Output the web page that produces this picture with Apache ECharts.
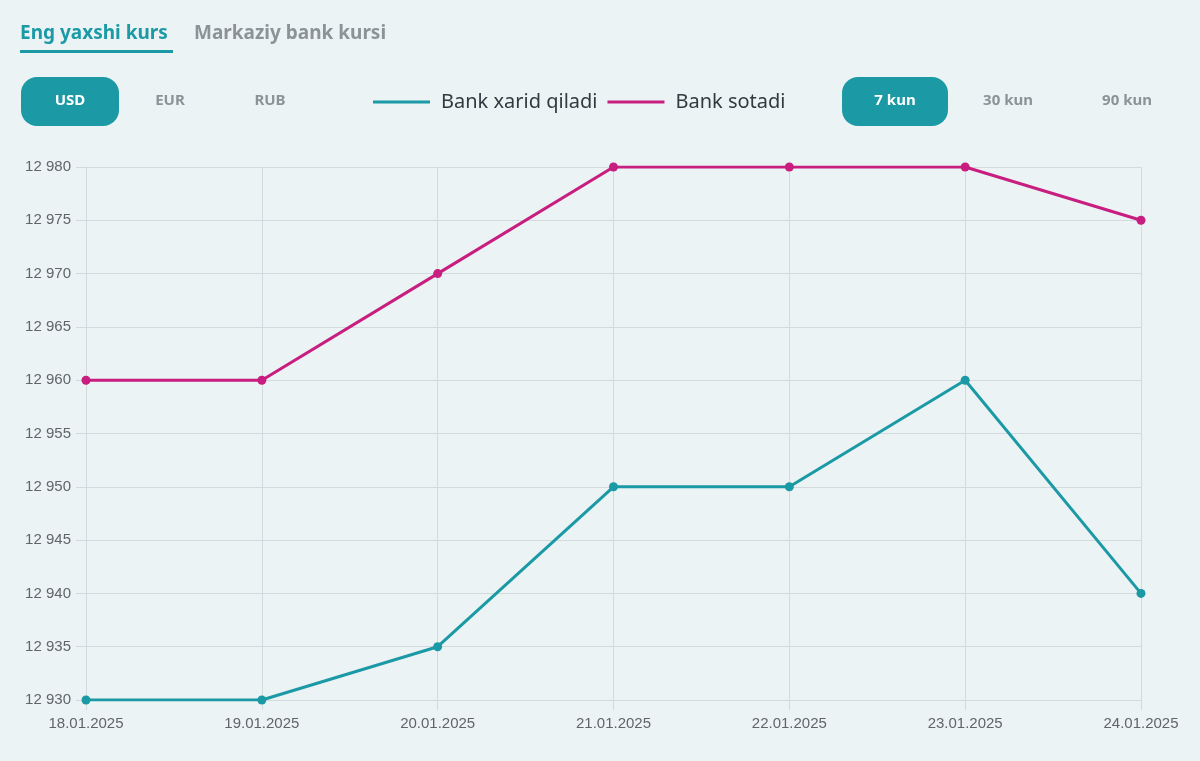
<!DOCTYPE html>
<html>
<head>
<meta charset="utf-8">
<script src="https://cdn.jsdelivr.net/npm/echarts@6/dist/echarts.min.js"></script>
<style>
html,body{margin:0;padding:0;background:#ebf3f5;}
#chart{width:1200px;height:761px;}
</style>
</head>
<body>
<div id="chart"></div>
<script>
const dates = ['18.01.2025','19.01.2025','20.01.2025','21.01.2025','22.01.2025','23.01.2025','24.01.2025'];
const buyRates = [12930, 12930, 12935, 12950, 12950, 12960, 12940];
const sellRates = [12960, 12960, 12970, 12980, 12980, 12980, 12975];
const seriesNames = ['Bank xarid qiladi', 'Bank sotadi'];
const tabs = ['Eng yaxshi kurs', 'Markaziy bank kursi'];
const currencies = ['USD', 'EUR', 'RUB'];
const periods = ['7 kun', '30 kun', '90 kun'];

const TEAL = '#1b9aa6';
const MAGENTA = '#c81e7f';
const GRAYTXT = '#8c9397';
const GRID = '#d3dadd';
const UIFONT = '"Noto Sans", "Open Sans", sans-serif';
const AXFONT = '"Liberation Sans", Arial, sans-serif';

const chart = echarts.init(document.getElementById('chart'));

function fmt(v){ return String(v).replace(/\B(?=(\d{3})+(?!\d))/g, ' '); }

const graphic = [
  {type:'text', x:20, y:34, style:{text:tabs[0], font:'bold 19px ' + UIFONT, fill:TEAL, verticalAlign:'middle'}},
  {type:'rect', shape:{x:20, y:50, width:153, height:3}, style:{fill:TEAL}},
  {type:'text', x:194, y:34, style:{text:tabs[1], font:'bold 19px ' + UIFONT, fill:GRAYTXT, verticalAlign:'middle'}},
  {type:'rect', shape:{x:21, y:77, width:98, height:49, r:16}, style:{fill:TEAL}},
  {type:'text', x:70, y:101, style:{text:currencies[0], font:'bold 15px ' + UIFONT, fill:'#ffffff', align:'center', verticalAlign:'middle'}},
  {type:'text', x:170, y:101, style:{text:currencies[1], font:'bold 15px ' + UIFONT, fill:GRAYTXT, align:'center', verticalAlign:'middle'}},
  {type:'text', x:270, y:101, style:{text:currencies[2], font:'bold 15px ' + UIFONT, fill:GRAYTXT, align:'center', verticalAlign:'middle'}},
  {type:'rect', shape:{x:842, y:77, width:106, height:49, r:16}, style:{fill:TEAL}},
  {type:'text', x:895, y:101, style:{text:periods[0], font:'bold 15px ' + UIFONT, fill:'#ffffff', align:'center', verticalAlign:'middle'}},
  {type:'text', x:1008, y:101, style:{text:periods[1], font:'bold 15px ' + UIFONT, fill:GRAYTXT, align:'center', verticalAlign:'middle'}},
  {type:'text', x:1127, y:101, style:{text:periods[2], font:'bold 15px ' + UIFONT, fill:GRAYTXT, align:'center', verticalAlign:'middle'}}
];

chart.setOption({
  backgroundColor:'#ebf3f5',
  animation:false,
  graphic: graphic,
  legend:{
    left:368, top:87,
    icon:'rect', itemWidth:57, itemHeight:3, itemGap:10,
    textStyle:{fontSize:20, color:'#333a3f', fontFamily:UIFONT, padding:[0,0,0,6]},
    data: seriesNames
  },
  grid:{left:86, right:59, top:167, bottom:61, containLabel:false},
  xAxis:{
    type:'category', data:dates, boundaryGap:false,
    axisLine:{show:true, lineStyle:{color:GRID, width:1}},
    axisTick:{show:true, length:10, alignWithLabel:true, lineStyle:{color:GRID}},
    splitLine:{show:true, lineStyle:{color:GRID, width:1}},
    axisLabel:{color:'#5f6569', fontSize:15, fontFamily:AXFONT, margin:16}
  },
  yAxis:{
    type:'value', min:12930, max:12980, interval:5,
    axisLine:{show:true, lineStyle:{color:GRID, width:1}},
    axisTick:{show:true, length:10, lineStyle:{color:GRID}},
    splitLine:{show:true, lineStyle:{color:GRID, width:1}},
    axisLabel:{color:'#5f6569', fontSize:15, fontFamily:AXFONT, margin:15, formatter: fmt}
  },
  series:[
    {name:seriesNames[0], type:'line', data:buyRates, color:TEAL,
     symbol:'circle', symbolSize:9, lineStyle:{width:3, color:TEAL}, itemStyle:{color:TEAL}},
    {name:seriesNames[1], type:'line', data:sellRates, color:MAGENTA,
     symbol:'circle', symbolSize:9, lineStyle:{width:3, color:MAGENTA}, itemStyle:{color:MAGENTA}}
  ]
});
</script>
</body>
</html>
